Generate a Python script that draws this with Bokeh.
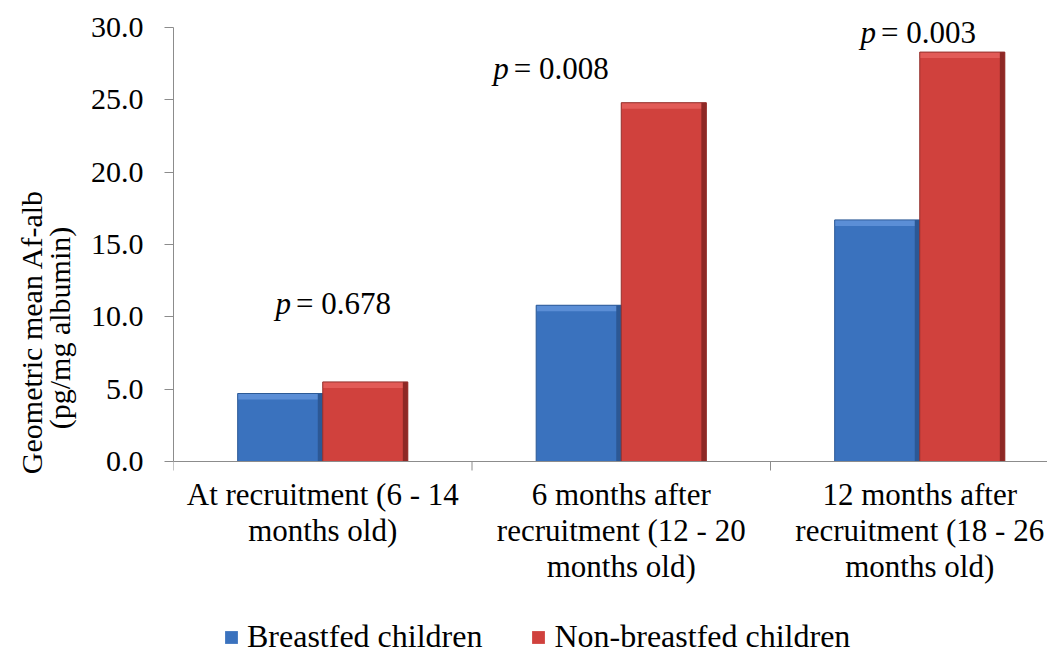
from bokeh.plotting import figure
from bokeh.models import (FixedTicker, Legend, LegendItem, ColumnDataSource, Range1d,
                          NumeralTickFormatter, LinearAxis, Span)
from bokeh.core.properties import value
from bokeh.embed import file_html
from bokeh.resources import INLINE

categories = ["At recruitment (6 - 14\nmonths old)",
              "6 months after\nrecruitment (12 - 20\nmonths old)",
              "12 months after\nrecruitment (18 - 26\nmonths old)"]
breastfed = [4.7, 10.8, 16.7]
non_breastfed = [5.5, 24.8, 28.3]
p_values = ["0.678", "0.008", "0.003"]
p_label_x = [0.40, 1.13, 2.36]
p_label_y = [10.9, 27.2, 29.65]
y_ticks = [0, 5, 10, 15, 20, 25, 30]
series_names = ["Breastfed children", "Non-breastfed children"]
y_title = ["Geometric mean  Af-alb", "(pg/mg albumin)"]

FONT = "Liberation Serif"
BAR_W = 0.285
W, H = 1047, 655
LEFT = 173            # frame left edge (px)
Y0_PX, Y30_PX = 461, 27  # where 0 and 30 sit (px from top)
PX_PER_UNIT = (Y0_PX - Y30_PX) / 30.0
CAT_PX = 298.5
n = len(categories)
centers = [i + 0.5 for i in range(n)]

p = figure(width=W, height=H, output_backend="svg", toolbar_location=None,
           x_axis_location=None,
           x_range=Range1d(0, (W - LEFT) / CAT_PX),
           y_range=Range1d(-(H - Y0_PX) / PX_PER_UNIT, 30 + Y30_PX / PX_PER_UNIT),
           min_border_left=LEFT, min_border_right=0, min_border_top=0, min_border_bottom=0)
p.outline_line_color = None
p.xgrid.visible = False
p.ygrid.visible = False
p.background_fill_color = "white"

# bars (with a simple bevel look: lighter top band, darker right edge)
bev = 6 / PX_PER_UNIT
edge = 5 / CAT_PX
xb = [c - BAR_W / 2 for c in centers]
xn = [c + BAR_W / 2 for c in centers]
src_b = ColumnDataSource(dict(x=xb, top=breastfed, btop=[v - bev for v in breastfed],
                              xr=[x + BAR_W / 2 - edge / 2 for x in xb]))
src_n = ColumnDataSource(dict(x=xn, top=non_breastfed, btop=[v - bev for v in non_breastfed],
                              xr=[x + BAR_W / 2 - edge / 2 for x in xn]))
rb = p.vbar(x="x", top="top", width=BAR_W, bottom=0, source=src_b,
            fill_color="#3a72be", line_color=None)
p.vbar(x="x", top="top", bottom="btop", width=BAR_W, source=src_b,
       fill_color="#5b8ed6", line_color=None)
p.vbar(x="xr", top="top", bottom=0, width=edge, source=src_b,
       fill_color="#2c5895", line_color=None)
p.vbar(x="x", top="top", width=BAR_W, bottom=0, source=src_b,
       fill_color=None, line_color="#2c5a96", line_width=1)
rn = p.vbar(x="x", top="top", width=BAR_W, bottom=0, source=src_n,
            fill_color="#d0413d", line_color=None)
p.vbar(x="x", top="top", bottom="btop", width=BAR_W, source=src_n,
       fill_color="#e25b57", line_color=None)
p.vbar(x="xr", top="top", bottom=0, width=edge, source=src_n,
       fill_color="#8e2825", line_color=None)
p.vbar(x="x", top="top", width=BAR_W, bottom=0, source=src_n,
       fill_color=None, line_color="#93302c", line_width=1)

# p-value annotations
src_p = ColumnDataSource(dict(x=p_label_x, y=p_label_y,
                              p=["p"] * len(p_values),
                              rest=["= " + v for v in p_values]))
p.text(x="x", y="y", text="p", source=src_p, text_font=value(FONT), text_font_style="italic",
       text_font_size="31px", text_align="right", text_baseline="middle", x_offset=-2,
       text_color="black")
p.text(x="x", y="y", text="rest", source=src_p, text_font=value(FONT),
       text_font_size="31px", text_align="left", text_baseline="middle", x_offset=3,
       text_color="black")

# category (x) axis drawn by hand: line, boundary ticks, labels
p.add_layout(Span(location=0, dimension="width", line_color="#8c8c8c", line_width=1))
bounds = list(range(n + 1))
tick_len = 9 / PX_PER_UNIT
p.segment(x0=bounds, y0=[0] * len(bounds), x1=bounds, y1=[-tick_len] * len(bounds),
          line_color="#8c8c8c", line_width=1)
p.text(x=centers, y=[0] * n, text=categories, text_font=value(FONT), text_font_size="31px",
       text_align="center", text_baseline="top", y_offset=15, text_line_height=1.03,
       text_color="black")

# y axis
ya = p.yaxis[0]
ya.bounds = (0, 30)
ya.ticker = FixedTicker(ticks=y_ticks, minor_ticks=[])
ya.formatter = NumeralTickFormatter(format="0.0")
ya.major_tick_out = 9
ya.major_tick_in = 0
ya.minor_tick_out = 0
ya.major_tick_line_color = "#8c8c8c"
ya.axis_line_color = "#8c8c8c"
ya.major_label_text_font = FONT
ya.major_label_text_font_size = "30px"
ya.major_label_text_color = "black"
ya.major_label_standoff = 21
ya.axis_label = y_title[1]
ya.axis_label_text_font = FONT
ya.axis_label_text_font_size = "30px"
ya.axis_label_text_font_style = "normal"
ya.axis_label_text_color = "black"
ya.axis_label_standoff = 12

ya2 = LinearAxis(bounds=(0, 30), ticker=FixedTicker(ticks=[], minor_ticks=[]),
                 axis_line_color=None, major_tick_line_color=None,
                 minor_tick_line_color=None, major_label_text_font_size="0px",
                 axis_label=y_title[0], axis_label_text_font=FONT,
                 axis_label_text_font_size="30px", axis_label_text_font_style="normal",
                 axis_label_text_color="black", axis_label_standoff=-8)
p.add_layout(ya2, "left")

legend = Legend(items=[LegendItem(label=series_names[0], renderers=[rb]),
                       LegendItem(label=series_names[1], renderers=[rn])],
                orientation="horizontal", location=(50, 0),
                label_text_font=FONT, label_text_font_size="32px", label_text_color="black",
                glyph_width=16, glyph_height=16, spacing=48, padding=0, margin=0,
                border_line_color=None, background_fill_alpha=0, label_standoff=8)
p.add_layout(legend)

open("out.html", "w").write(file_html(p, INLINE))
